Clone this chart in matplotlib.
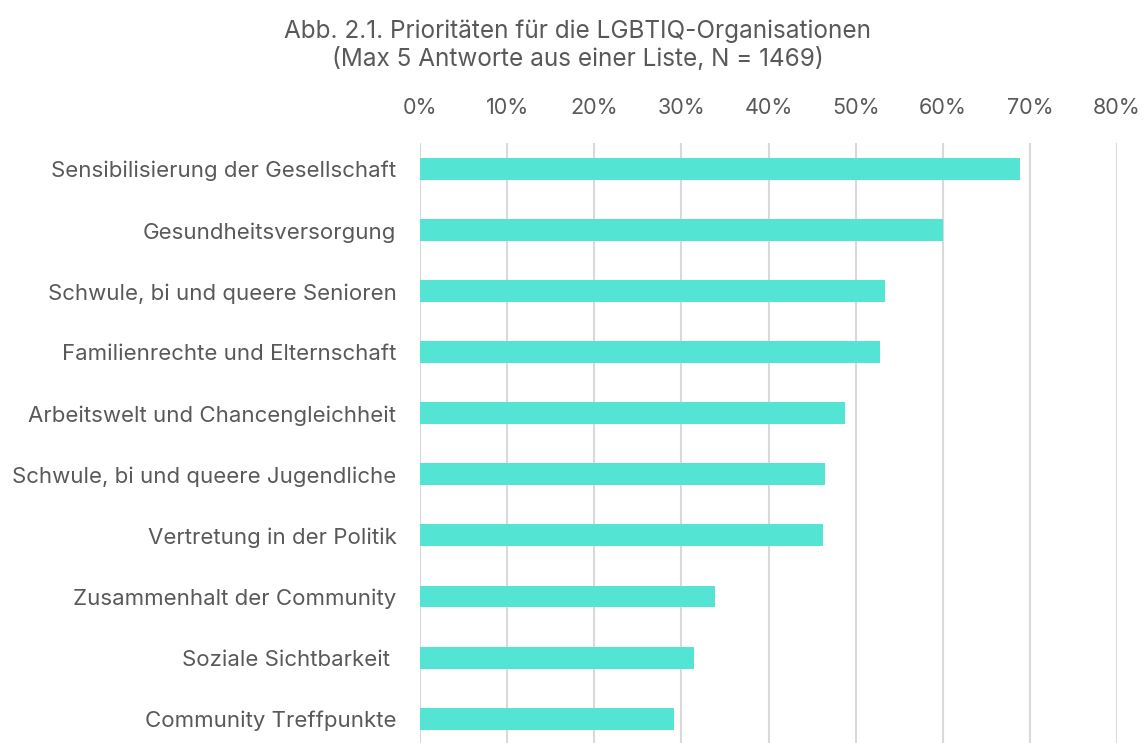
import matplotlib
matplotlib.use("Agg")
import matplotlib.pyplot as plt
from matplotlib.ticker import PercentFormatter

# data (share of respondents, %)
categories = [
    "Sensibilisierung der Gesellschaft",
    "Gesundheitsversorgung",
    "Schwule, bi und queere Senioren",
    "Familienrechte und Elternschaft",
    "Arbeitswelt und Chancengleichheit",
    "Schwule, bi und queere Jugendliche",
    "Vertretung in der Politik",
    "Zusammenhalt der Community",
    "Soziale Sichtbarkeit ",
    "Community Treffpunkte",
]
values = [68.9, 60.0, 53.4, 52.8, 48.8, 46.5, 46.3, 33.9, 31.5, 29.2]
xticks = [0, 10, 20, 30, 40, 50, 60, 70, 80]

title = "Abb. 2.1. Prioritäten für die LGBTIQ-Organisationen\n(Max 5 Antworte aus einer Liste, N = 1469)"

text_color = "#595959"
bar_color = "#54E4D4"

plt.rcParams["font.family"] = ["Inter", "DejaVu Sans"]

fig = plt.figure(figsize=(11.44, 7.43), dpi=100)
ax = fig.add_axes([420 / 1144, 0.0, (1117 - 420) / 1144, 1 - 143 / 743])

pos = list(range(len(categories)))
ax.barh(pos, values, height=0.36, color=bar_color, zorder=3)

ax.set_xlim(0, 80)
ax.set_ylim(len(categories) - 0.6, -0.43)
ax.set_xticks(xticks)
ax.xaxis.set_major_formatter(PercentFormatter(decimals=0))
ax.xaxis.tick_top()
ax.set_yticks(pos)
ax.set_yticklabels(categories)

ax.tick_params(axis="x", length=0, pad=18, labelsize=15.5, labelcolor=text_color)
ax.tick_params(axis="y", length=0, pad=17, labelsize=16, labelcolor=text_color)

ax.grid(axis="x", color="#D9D9D9", linewidth=1.5, zorder=0)
for s in ax.spines.values():
    s.set_visible(False)

fig.text(0.505, 0.939, title, ha="center", va="center", fontsize=17.5,
         color=text_color, linespacing=1.25)

fig.savefig("out.png", dpi=100, facecolor="white")
